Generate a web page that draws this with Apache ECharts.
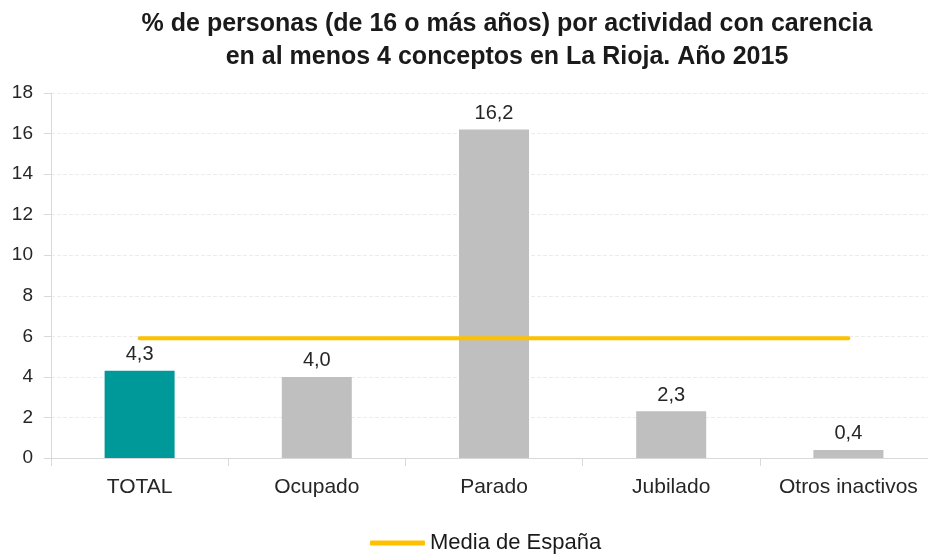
<!DOCTYPE html>
<html>
<head>
<meta charset="utf-8">
<script src="https://cdn.jsdelivr.net/npm/echarts@6/dist/echarts.min.js"></script>
<style>
html,body{margin:0;padding:0;background:#fff;overflow:hidden;width:928px;height:554px;}
#chart{width:940px;height:554px;}
</style>
</head>
<body>
<div id="chart"></div>
<script>
const categories = ['TOTAL', 'Ocupado', 'Parado', 'Jubilado', 'Otros inactivos'];
const porcentajes = [4.3, 4.0, 16.2, 2.3, 0.4];
const mediaEspana = [5.9, 5.9, 5.9, 5.9, 5.9];
const yTicks = { min: 0, max: 18, interval: 2 };
const titleLines = ['% de personas (de 16 o más años) por actividad con carencia', 'en al menos 4 conceptos en La Rioja. Año 2015'];

const FONT = '"Liberation Sans", Arial, sans-serif';
const chart = echarts.init(document.getElementById('chart'), null, { renderer: 'canvas' });
chart.setOption({
  animation: false,
  backgroundColor: '#ffffff',
  textStyle: { fontFamily: FONT },
  title: {
    text: titleLines.join('\n'),
    left: 502,
    top: 3,
    textAlign: 'center',
    textStyle: { fontFamily: FONT, fontSize: 25, fontWeight: 'bold', color: '#1a1a1a', lineHeight: 33 }
  },
  legend: {
    data: ['Media de España'],
    left: 365,
    top: 527,
    icon: 'roundRect',
    itemWidth: 55,
    itemHeight: 5,
    itemGap: 5,
    textStyle: { fontFamily: FONT, fontSize: 22, color: '#1a1a1a' }
  },
  grid: { left: 51, top: 93, width: 886, height: 365 },
  xAxis: {
    type: 'category',
    data: categories,
    axisLine: { show: true, lineStyle: { color: '#d9d9d9', width: 1 } },
    axisTick: { show: true, length: 8, alignWithLabel: false, lineStyle: { color: '#d9d9d9' } },
    axisLabel: { margin: 19, fontSize: 21, color: '#262626', fontFamily: FONT, interval: 0 },
    splitLine: { show: false }
  },
  yAxis: {
    type: 'value',
    min: yTicks.min,
    max: yTicks.max,
    interval: yTicks.interval,
    axisLine: { show: true, lineStyle: { color: '#d9d9d9', width: 1 } },
    axisTick: { show: true, length: 7, lineStyle: { color: '#d9d9d9' } },
    axisLabel: { margin: 18, fontSize: 19, color: '#262626', fontFamily: FONT },
    splitLine: { show: true, lineStyle: { color: '#ececec', type: 'dashed', width: 1 } }
  },
  series: [
    {
      name: 'Actividad',
      type: 'bar',
      data: porcentajes,
      barWidth: 70,
      z: 2,
      itemStyle: {
        color: function (p) { return p.dataIndex === 0 ? '#009999' : '#bfbfbf'; }
      },
      label: {
        show: true,
        position: 'top',
        distance: 6,
        fontSize: 20,
        color: '#262626',
        fontFamily: FONT,
        formatter: function (p) { return p.value.toFixed(1).replace('.', ','); }
      }
    },
    {
      name: 'Media de España',
      type: 'line',
      data: mediaEspana,
      symbol: 'none',
      z: 5,
      itemStyle: { color: '#ffc000' },
      lineStyle: { color: '#ffc000', width: 4, cap: 'round' }
    }
  ]
});
</script>
</body>
</html>
